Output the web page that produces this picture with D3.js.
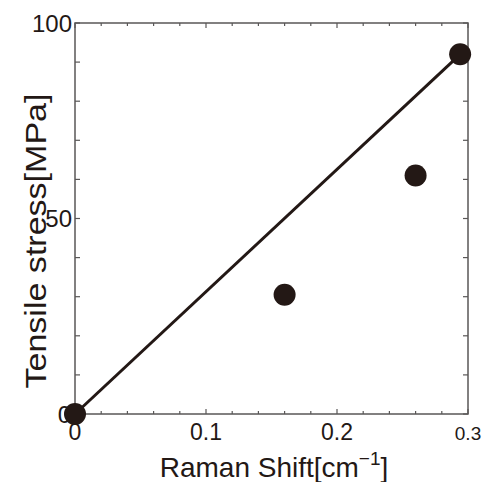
<!DOCTYPE html>
<meta charset="utf-8">
<style>
body { margin: 0; background: #fff; }
svg { display: block; font-family: "Liberation Sans", Arial, sans-serif; }
.frame { fill: none; stroke: #595757; stroke-width: 1.5px; }
.tick line { stroke: #595757; stroke-width: 1.2px; }
.lbl { fill: #231815; }
</style>
<script src="https://d3js.org/d3.v7.min.js"></script>
<body>
<svg id="chart"></svg>
<script>

var width = 483,
    height = 482;

// measured points
var shiftX = [0, 0.16, 0.26, 0.294];
var stressY = [0, 30.5, 61, 92];

// straight fit line endpoints
var fitX = [0, 0.294];
var fitY = [0, 92];

var xMajor = [0, 0.1, 0.2, 0.3];
var xMajorLabels = ["0", "0.1", "0.2", "0.3"];
var yMajor = [0, 50, 100];
var yMajorLabels = ["0", "50", "100"];

var pLeft = 75, pRight = 468, pTop = 23, pBottom = 414;

var x = d3.scaleLinear().domain([0, 0.3]).range([pLeft, pRight]);
var y = d3.scaleLinear().domain([0, 100]).range([pBottom, pTop]);

var svg = d3.select("#chart").attr("width", width).attr("height", height);

// minor ticks
var xMinor = d3.range(0, 0.3001, 0.02);
var yMinor = d3.range(0, 100.01, 10);

function isMajorX(d) { return Math.abs(d * 10 - Math.round(d * 10)) < 1e-6; }

var ticks = svg.append("g").attr("class", "tick");

ticks.selectAll(".xb").data(xMinor).enter().append("line")
	.attr("x1", function(d) { return x(d); })
	.attr("x2", function(d) { return x(d); })
	.attr("y1", pBottom)
	.attr("y2", function(d) { return pBottom - (isMajorX(d) ? 5 : 3); });

ticks.selectAll(".xt").data(xMinor).enter().append("line")
	.attr("x1", function(d) { return x(d); })
	.attr("x2", function(d) { return x(d); })
	.attr("y1", pTop)
	.attr("y2", function(d) { return pTop + (isMajorX(d) ? 5 : 3); });

ticks.selectAll(".yl").data(yMinor).enter().append("line")
	.attr("y1", function(d) { return y(d); })
	.attr("y2", function(d) { return y(d); })
	.attr("x1", pLeft)
	.attr("x2", pLeft + 5);

ticks.selectAll(".yr").data(yMinor).enter().append("line")
	.attr("y1", function(d) { return y(d); })
	.attr("y2", function(d) { return y(d); })
	.attr("x1", pRight)
	.attr("x2", pRight - 5);

svg.append("rect").attr("class", "frame")
	.attr("x", pLeft).attr("y", pTop)
	.attr("width", pRight - pLeft).attr("height", pBottom - pTop);

// tick labels
svg.selectAll(".xlab").data(xMajor).enter().append("text")
	.attr("class", "lbl")
	.attr("x", function(d) { return x(d); })
	.attr("y", 440)
	.attr("text-anchor", "middle")
	.style("font-size", function(d, i) { return i == 3 ? "19px" : "23px"; })
	.text(function(d, i) { return xMajorLabels[i]; });

svg.selectAll(".ylab").data(yMajor).enter().append("text")
	.attr("class", "lbl")
	.attr("x", function(d) { return d == 0 ? pLeft - 4 : pLeft - 3; })
	.attr("y", function(d) { return y(d); })
	.attr("dy", "0.36em")
	.attr("text-anchor", "end")
	.style("font-size", "24px")
	.text(function(d, i) { return yMajorLabels[i]; });

// fit line
var fit = fitX.map(function(d, i) { return [d, fitY[i]]; });
svg.append("path")
	.datum(fit)
	.attr("fill", "none")
	.attr("stroke", "#231815")
	.attr("stroke-width", 3)
	.attr("d", d3.line().x(function(d) { return x(d[0]); }).y(function(d) { return y(d[1]); }));

// points
svg.selectAll(".pt").data(shiftX).enter().append("circle")
	.attr("cx", function(d) { return x(d); })
	.attr("cy", function(d, i) { return y(stressY[i]); })
	.attr("r", 11)
	.attr("fill", "#231815");

// axis titles
var xt = svg.append("text")
	.attr("class", "lbl")
	.attr("x", 274)
	.attr("y", 477)
	.attr("text-anchor", "middle")
	.style("font-size", "28px");
xt.append("tspan").text("Raman Shift[cm");
xt.append("tspan").attr("dy", -12).style("font-size", "19px").text("\u22121");
xt.append("tspan").attr("dy", 12).text("]");

svg.append("text")
	.attr("class", "lbl")
	.attr("transform", "translate(46,241) rotate(-90)")
	.attr("text-anchor", "middle")
	.attr("textLength", 295)
	.attr("lengthAdjust", "spacingAndGlyphs")
	.style("font-size", "29px")
	.text("Tensile stress[MPa]");

</script>
</body>
